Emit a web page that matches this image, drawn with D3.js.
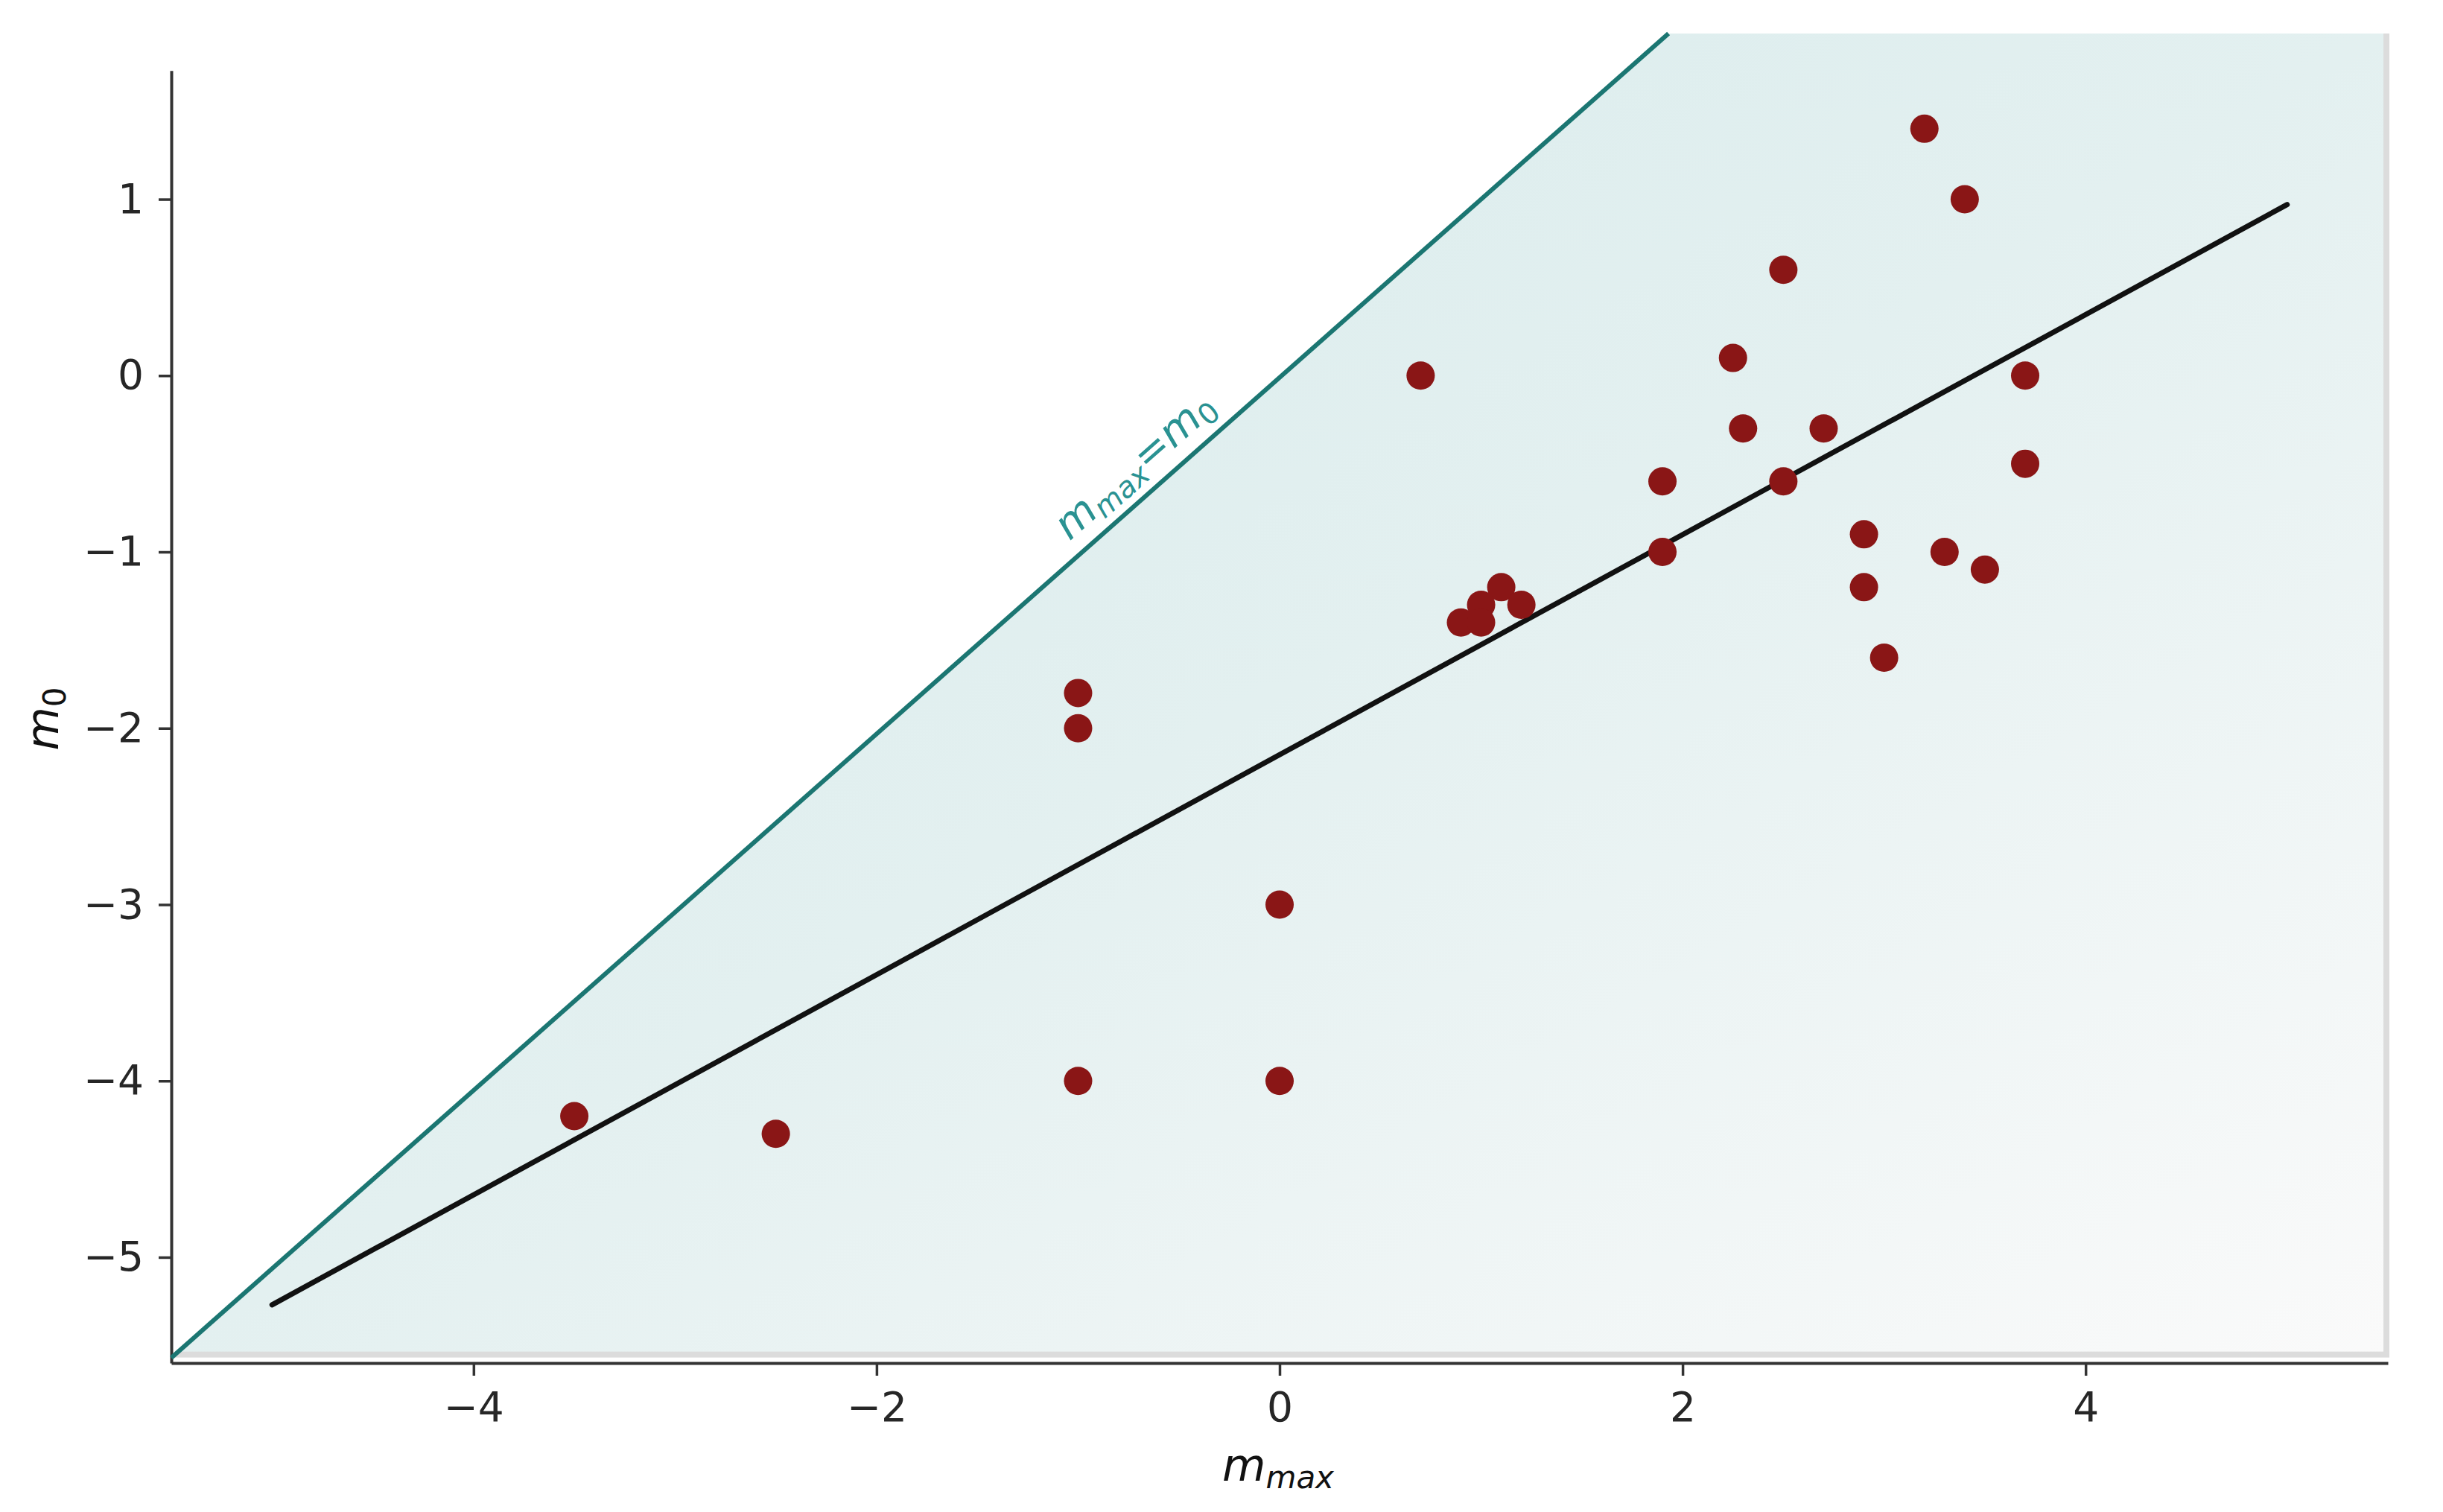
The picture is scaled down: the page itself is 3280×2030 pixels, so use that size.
<!DOCTYPE html>
<html>
<head>
<meta charset="utf-8">
<script src="https://cdn.jsdelivr.net/npm/d3@7"></script>
<style>
  body { margin: 0; background: #fff; }
  svg text { font-family: "DejaVu Sans", sans-serif; }
</style>
</head>
<body>
<svg id="chart" width="3280" height="2030"></svg>
<script>
// observed points (m_max, m_0)
let mMax = [3.2, 3.4, 2.5, 0.7, 2.25, 3.7, 2.3, 2.7, 3.7, 1.9, 2.5, 2.9, 1.9, 3.3, 3.5,
            2.9, 1.1, 1.0, 1.2, 0.9, 1.0, 3.0, -1.0, -1.0, 0.0, -1.0, 0.0, -3.5, -2.5]
let m0   = [1.4, 1.0, 0.6, 0.0, 0.1, 0.0, -0.3, -0.3, -0.5, -0.6, -0.6, -0.9, -1.0, -1.0, -1.1,
            -1.2, -1.2, -1.3, -1.3, -1.4, -1.4, -1.6, -1.8, -2.0, -3.0, -4.0, -4.0, -4.2, -4.3]

// fitted line end points
let fitX = [-5, 5]
let fitY = [-5.27, 0.97]

// identity line m_max = m_0 (as drawn, corner to top)
let idX = [-5.5, 1.93]
let idY = [-5.57, 1.94]

let xTicks = [-4, -2, 0, 2, 4]
let yTicks = [-5, -4, -3, -2, -1, 0, 1]

let width = 3280, height = 2030
let marginLeft = 230, marginRight = 74, marginTop = 45, marginBottom = 200

let svg = d3.select("#chart")

let x = d3.scaleLinear([-5.5, 5.5], [marginLeft, width - marginRight])
let y = d3.scaleLinear([-5.6, 1.94], [height - marginBottom, marginTop])

// background panel with gradient, only below the identity line
let defs = svg.append("defs")
let grad = defs.append("linearGradient")
    .attr("id", "panelGrad")
    .attr("x1", 0).attr("y1", 0).attr("x2", 1).attr("y2", 1)
grad.append("stop").attr("offset", 0).attr("stop-color", "#d6eaeb")
grad.append("stop").attr("offset", 0.5).attr("stop-color", "#e3f0f0")
grad.append("stop").attr("offset", 1).attr("stop-color", "#fafafa")

// polygon under the identity line, extended beyond the panel
let slope = (idY[1] - idY[0]) / (idX[1] - idX[0])
let idAt = v => idY[0] + slope * (v - idX[0])
let below = [[-6, idAt(-6)], [3, idAt(3)], [6, idAt(3)], [6, -6], [-6, -6]]
defs.append("clipPath").attr("id", "belowLine")
    .append("polygon")
    .attr("points", below.map(p => [x(p[0]), y(p[1])].join(",")).join(" "))

let panel = svg.append("g").attr("clip-path", "url(#belowLine)")
let px0 = x(-5.5), px1 = x(5.5), py0 = y(1.94), py1 = y(-5.535)
panel.append("rect")
    .attr("x", px0).attr("y", py0)
    .attr("width", px1 - px0 + 2).attr("height", py1 - py0 + 8)
    .attr("fill", "#dcdcdc")
panel.append("rect")
    .attr("x", px0).attr("y", py0)
    .attr("width", px1 - px0 - 6).attr("height", py1 - py0)
    .attr("fill", "url(#panelGrad)")

// axes
let yAxisScale = y.copy().domain([-5.6, 1.73]).range([y(-5.6), y(1.73)])
let gy = svg.append("g")
    .attr("transform", `translate(${marginLeft},0)`)
    .call(d3.axisLeft(yAxisScale).tickValues(yTicks).tickSize(17).tickSizeOuter(0).tickPadding(20))
let gx = svg.append("g")
    .attr("transform", `translate(0,${height - marginBottom})`)
    .call(d3.axisBottom(x).tickValues(xTicks).tickSize(17).tickSizeOuter(0).tickPadding(22))

for (let g of [gx, gy]) {
    g.select(".domain").attr("stroke", "#333").attr("stroke-width", 4)
    g.selectAll(".tick line").attr("stroke", "#333").attr("stroke-width", 3.5)
    g.selectAll(".tick text")
        .attr("font-size", 55)
        .attr("fill", "#262626")
        .style("font-family", "DejaVu Sans")
}

// identity line
svg.append("line")
    .attr("x1", x(idX[0])).attr("y1", y(idY[0]))
    .attr("x2", x(idX[1])).attr("y2", y(idY[1]))
    .attr("stroke", "#1b7672")
    .attr("stroke-width", 6)

// label along identity line
let angle = Math.atan2(y(idY[1]) - y(idY[0]), x(idX[1]) - x(idX[0])) * 180 / Math.PI
let lx = -0.62
let lab = svg.append("text")
    .attr("transform", `translate(${x(lx)},${y(idAt(lx))}) rotate(${angle})`)
    .attr("y", -22)
    .attr("text-anchor", "middle")
    .attr("fill", "#2a9292")
lab.append("tspan").attr("font-size", 56).attr("font-style", "italic").text("m")
lab.append("tspan").attr("font-size", 39).attr("font-style", "italic").attr("dy", 9).text("max")
lab.append("tspan").attr("font-size", 56).attr("dy", -9).text("=")
lab.append("tspan").attr("font-size", 56).attr("font-style", "italic").text("m")
lab.append("tspan").attr("font-size", 39).attr("dy", 9).text("0")

// fitted line
svg.append("path")
    .datum(fitX.map((d, i) => [d, fitY[i]]))
    .attr("d", d3.line().x(d => x(d[0])).y(d => y(d[1])))
    .attr("fill", "none")
    .attr("stroke", "#111")
    .attr("stroke-width", 7)
    .attr("stroke-linecap", "round")

// points
svg.append("g")
    .selectAll("circle")
    .data(mMax)
    .join("circle")
    .attr("cx", d => x(d))
    .attr("cy", (d, i) => y(m0[i]))
    .attr("r", 19)
    .attr("fill", "#8a1616")

// axis labels
let xl = svg.append("text")
    .attr("x", x(0) - 2).attr("y", 1988)
    .attr("text-anchor", "middle")
    .attr("fill", "#111")
xl.append("tspan").attr("font-size", 60).attr("font-style", "italic").text("m")
xl.append("tspan").attr("font-size", 42).attr("font-style", "italic").attr("dy", 10).text("max")

let yl = svg.append("text")
    .attr("transform", `translate(78,965) rotate(-90)`)
    .attr("text-anchor", "middle")
    .attr("fill", "#111")
yl.append("tspan").attr("font-size", 60).attr("font-style", "italic").text("m")
yl.append("tspan").attr("font-size", 42).attr("dy", 10).text("0")
</script>
</body>
</html>
